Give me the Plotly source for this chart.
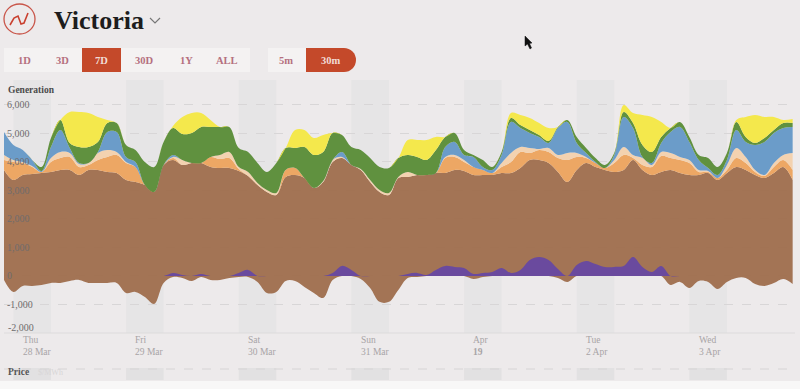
import pandas as pd
import plotly.graph_objects as go

# Generation: upper edge of each stacked layer, MW, 2-hourly
coal_top = [3710,3360,3535,3570,3605,3640,3710,3710,3535,3710,3710,3640,3605,3360,3290,3185,2940,3885,4060,3885,3955,3955,3815,3780,3780,3675,3500,3185,2940,2835,3465,3535,3430,3080,3290,3990,4130,3885,3710,3290,2940,2835,3430,3465,3535,3535,3605,3605,3710,3675,3535,3535,3535,3605,3605,3780,4060,4060,3955,3640,3290,3710,3955,3815,3710,3640,3710,4060,3710,3535,3640,3710,3605,3535,3535,3605,3360,3605,3815,3710,3535,3430,3605,3815,3360]
hydro_top = [4060,3990,3955,3815,3640,3990,4130,4165,3815,3885,4060,4165,4235,3955,3815,3185,2940,3885,4130,3885,3955,3955,4165,4095,4130,3745,3500,3185,2940,2835,3710,3780,3430,3080,3290,3990,4130,3885,3710,3290,2940,2835,3430,3465,3535,3535,3605,4130,4165,3990,3815,3710,3605,3815,3990,4340,4305,4410,4340,4130,4060,4165,4130,3955,3780,3955,4235,4130,3885,3815,4200,4130,4060,3955,3640,3640,3430,3710,4130,3955,3640,3500,3815,4060,3710]
battery_top = [4235,4060,3990,3850,3640,4130,4340,4305,3920,3955,4305,4410,4340,3990,3815,3185,2940,3885,4165,4060,3955,3955,4165,4235,4340,3815,3640,3255,3010,2905,3710,3780,3430,3080,3325,4060,4165,3885,3745,3360,3010,2905,3465,3640,3535,3535,3605,4165,4235,4060,3815,3710,3605,3955,4305,4515,4480,4445,4480,4235,4305,4305,4165,3955,3780,4060,4515,4235,4130,3885,4340,4305,4165,4060,3710,3675,3430,3885,4480,4165,3710,3535,3955,4235,4305]
wind_top = [5040,4585,4410,4060,3675,4515,5110,4480,3955,3955,4340,5040,5040,4165,3990,3185,2940,3885,4235,4060,3955,3955,4165,4235,4340,3815,3640,3255,3010,2905,3710,3780,3430,3080,3325,4060,4340,3885,3745,3360,3010,2905,3465,3640,3535,3535,3605,4515,4690,4235,4165,3815,3710,4235,5390,5180,5005,4865,4655,5180,5390,4655,4305,3990,3780,4235,5565,5180,4165,3955,4655,5040,5215,4690,4060,3780,3535,4060,5110,4690,4585,4690,5005,5180,5215]
rooftop_top = [5040,4585,4410,4060,3815,4830,5460,4655,4515,4515,4690,5355,5355,4585,4410,3990,3815,4690,5180,4970,5005,5215,5215,5215,5215,4480,4340,3955,3640,3955,4480,4480,4515,4235,4340,5005,4935,4515,4410,4130,3815,3780,4130,4235,4165,4060,4410,4865,5005,4410,4235,4060,3815,4340,5530,5285,5110,4935,4725,5215,5460,4865,4480,4130,3885,4305,5740,5355,4585,4340,4865,5180,5390,4865,4235,4130,3815,4305,5390,4865,4655,4830,5110,5355,5355]
solar_top = [5040,4585,4410,4060,3815,4830,5460,5740,5740,5705,5565,5460,5355,4585,4410,3990,3815,4690,5250,5565,5705,5705,5460,5215,5215,4480,4340,3955,3640,3955,4480,5110,5110,4830,4935,5005,4935,4515,4410,4130,3815,3780,4130,4760,4760,4760,4865,4865,5005,4410,4235,4060,3815,4340,5705,5635,5530,5355,5180,5215,5460,4865,4480,4130,3885,4305,5985,5705,5635,5565,5390,5180,5390,4865,4235,4130,3815,4305,5460,5565,5635,5565,5565,5460,5495]
exports = [-140,-560,-350,-350,-315,-245,-245,-175,-140,-245,-245,-245,-245,-595,-560,-735,-980,-245,-35,-70,-175,-35,-140,-140,-70,-35,-35,-210,-595,-560,-175,-175,-385,-595,-770,-140,0,0,-105,-420,-910,-910,-490,-70,-35,0,0,0,0,0,-105,-35,0,0,0,0,0,0,0,-70,-210,0,0,0,0,0,0,0,0,0,0,-315,-210,-420,-175,-210,-455,-210,-70,-70,-280,-350,-245,-105,-280]
imports = [0,0,0,0,0,0,0,0,0,0,0,0,0,0,0,0,0,0,105,35,0,70,0,0,0,105,210,0,0,0,0,0,0,0,0,105,350,210,0,0,0,0,0,70,105,35,210,350,315,280,70,105,140,280,105,210,560,665,560,245,0,385,525,420,315,315,350,665,315,140,350,0,0,0,0,0,0,0,0,0,0,0,0,0,0]

start_time = "2024-03-27 20:00"
times = pd.date_range(start_time, periods=len(coal_top), freq="2h")

y_ticks = [6000, 5000, 4000, 3000, 2000, 1000, 0, -1000]
y_labels = ["6,000", "5,000", "4,000", "3,000", "2,000", "1,000", "0", "-1,000"]
y_bottom_label = "-2,000"
day_dates = ["2024-03-28", "2024-03-29", "2024-03-30", "2024-03-31", "2024-04-01", "2024-04-02", "2024-04-03"]
day_names = ["Thu", "Fri", "Sat", "Sun", "Apr", "Tue", "Wed"]
day_nums = ["28 Mar", "29 Mar", "30 Mar", "31 Mar", "<b>19</b>", "2 Apr", "3 Apr"]
left_buttons = ["1D", "3D", "7D", "30D", "1Y", "ALL"]
right_buttons = ["5m", "30m"]

SERIF = "Liberation Serif, DejaVu Serif, serif"
BG = "#EDEAEB"
RED = "#C4492A"
W, H = 800, 389
L, R, T, B = 4, 5, 80, 56

def py(v):
    return 1 - (v - T) / (H - T - B)
def fx(v):
    return (v - L) / (W - L - R)

fig = go.Figure()
SM = 1.0
layers = [
    ("Coal", coal_top, "rgba(160,112,80,0.97)", "tozeroy"),
    ("Hydro", hydro_top, "#EDA764", "tonexty"),
    ("Battery", battery_top, "#F3D2B0", "tonexty"),
    ("Wind", wind_top, "#6B9CC9", "tonexty"),
    ("Rooftop", rooftop_top, "#60913F", "tonexty"),
    ("Solar", solar_top, "#F4E84C", "tonexty"),
]
for name, vals, col, fill in layers:
    fig.add_trace(go.Scatter(x=times, y=vals, name=name, mode="lines", fill=fill,
                             fillcolor=col, line=dict(width=0, color=col, shape="spline", smoothing=SM)))
fig.add_trace(go.Scatter(x=times, y=exports, name="Exports", mode="lines", fill="tozeroy",
                         fillcolor="rgba(160,112,80,0.97)", line=dict(width=0, shape="spline", smoothing=SM)))
fig.add_trace(go.Scatter(x=times, y=imports, name="Imports", mode="lines", fill="tozeroy",
                         fillcolor="#6A4A9E", line=dict(width=0, shape="spline", smoothing=SM)))

shapes = []
for d in day_dates:
    d0 = pd.Timestamp(d) - pd.Timedelta(hours=2)
    d1 = pd.Timestamp(d) + pd.Timedelta(hours=6)
    shapes.append(dict(type="rect", xref="x", yref="paper", x0=d0, x1=d1, y0=0, y1=1,
                       fillcolor="#E6E5E6", line_width=0, layer="below"))
    shapes.append(dict(type="rect", xref="x", yref="paper", x0=d0, x1=d1, y0=py(368), y1=py(380),
                       fillcolor="#E2E1E2", line_width=0, layer="below"))
shapes.append(dict(type="line", xref="paper", yref="paper", x0=0, x1=1, y0=py(369), y1=py(369),
                   line=dict(color="#D6D4D5", width=1, dash="dash"), layer="below"))
shapes.append(dict(type="line", xref="paper", yref="paper", x0=0, x1=1, y0=0, y1=0,
                   line=dict(color="#DDDBDC", width=1), layer="below"))
shapes.append(dict(type="rect", xref="paper", yref="paper", x0=-0.01, x1=1.01, y0=py(381), y1=py(389),
                   fillcolor="#F8F7F7", line_width=0, layer="below"))
shapes.append(dict(type="rect", xref="paper", yref="paper", x0=fx(4), x1=fx(250), y0=py(72), y1=py(48),
                   fillcolor="#F4F2F2", line_width=0))
shapes.append(dict(type="rect", xref="paper", yref="paper", x0=fx(268), x1=fx(340), y0=py(72), y1=py(48),
                   fillcolor="#F4F2F2", line_width=0))
shapes.append(dict(type="rect", xref="paper", yref="paper", x0=fx(82), x1=fx(121), y0=py(72), y1=py(48),
                   fillcolor=RED, line_width=0))
shapes.append(dict(type="rect", xref="paper", yref="paper", x0=fx(306), x1=fx(344), y0=py(72), y1=py(48),
                   fillcolor=RED, line_width=0))
shapes.append(dict(type="circle", xref="paper", yref="paper", x0=fx(332), x1=fx(356), y0=py(72), y1=py(48),
                   fillcolor=RED, line_width=0))
shapes.append(dict(type="circle", xref="paper", yref="paper", x0=fx(4), x1=fx(35), y0=py(34), y1=py(4),
                   fillcolor="rgba(0,0,0,0)", line=dict(color="#C9564A", width=1.3)))

def pth(points):
    return "M " + " L ".join(f"{fx(x):.5f} {py(y):.5f}" for x, y in points)
shapes.append(dict(type="path", xref="paper", yref="paper", path=pth([(10,25),(14,18),(18,16),(21,24),(24,23),(28,13)]),
                   line=dict(color="#C9402F", width=1.6)))
shapes.append(dict(type="path", xref="paper", yref="paper", path=pth([(150,18),(155,23),(160,18)]),
                   line=dict(color="#777", width=1.2)))
shapes.append(dict(type="path", xref="paper", yref="paper", path=pth([(525,36),(525,46),(527.5,44),(530,49),(531.5,48),(529.5,43.5),(532,43)]) + " Z",
                   fillcolor="#111", line=dict(color="#111", width=0.5)))

def note(x, y, text, size=10, color="#888", anchor="left", bold=False):
    return dict(xref="paper", yref="paper", x=fx(x), y=py(y), text=f"<b>{text}</b>" if bold else text,
                showarrow=False, xanchor=anchor, yanchor="middle", align="left",
                font=dict(family=SERIF, size=size, color=color))

ann = [note(52, 20, "Victoria", size=26, color="#1d1d1d", bold=True),
       note(6, 90, "Generation", size=9.5, color="#4b4b4b", bold=True),
       note(6, 372, "Price", size=9.5, color="#555", bold=True),
       note(36, 372, "$/MWh", size=8, color="#D8D6D7"),
       note(6, 327, y_bottom_label, size=10, color="#6F6C6D")]
for lbl, cx in zip(left_buttons, [24, 62, 101, 144, 186, 227]):
    c = "#F1DCD6" if lbl == "7D" else "#B5707F"
    ann.append(note(cx, 60, lbl, size=10.5, color=c, anchor="center", bold=True))
for lbl, cx in zip(right_buttons, [286, 331]):
    c = "#F1DCD6" if lbl == "30m" else "#B5707F"
    ann.append(note(cx, 60, lbl, size=10.5, color=c, anchor="center", bold=True))
for d, a, b in zip(day_dates, day_names, day_nums):
    ann.append(dict(xref="x", yref="paper", x=d, xshift=-2, y=py(346), text=f"{a}<br>{b}", showarrow=False,
                    xanchor="left", yanchor="middle", align="left",
                    font=dict(family=SERIF, size=9.5, color="#A8A4A6")))

fig.update_layout(
    width=W, height=H, margin=dict(l=L, r=R, t=T, b=B),
    paper_bgcolor=BG, plot_bgcolor="rgba(0,0,0,0)", showlegend=False,
    shapes=shapes, annotations=ann, hovermode=False,
    xaxis=dict(type="date", range=["2024-03-27 20:00", "2024-04-03 20:30"], showgrid=False,
               showticklabels=False, zeroline=False, ticks="", showline=False),
    yaxis=dict(range=[-2000, 6860], tickvals=y_ticks, ticktext=y_labels, ticklabelposition="inside",
               showgrid=True, gridcolor="#D8D6D7", griddash="dash", gridwidth=1, zeroline=False,
               tickfont=dict(family=SERIF, size=10, color="#6F6C6D"), layer="above traces"),
)
fig.write_html("out.html", config={"displayModeBar": False},
               post_script="document.body.style.margin='0';document.body.style.overflow='hidden';document.body.style.background='#EDEAEB';")
